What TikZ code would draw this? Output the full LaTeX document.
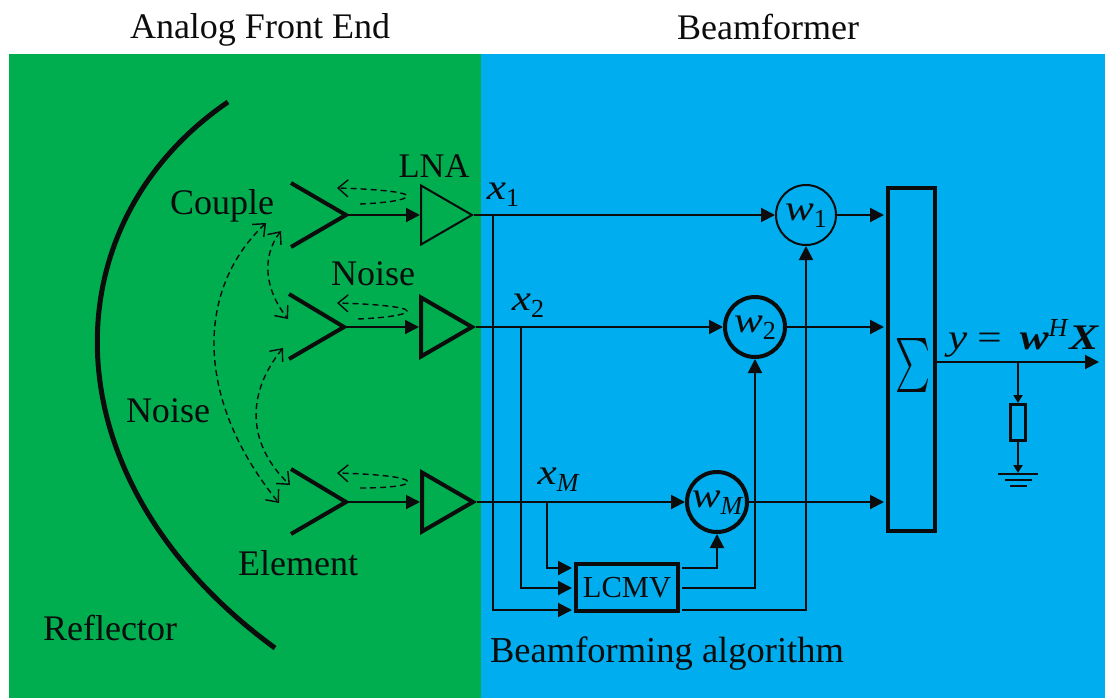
\documentclass[tikz,border=0pt]{standalone}
\usepackage{fontspec}
\setmainfont{Liberation Serif}
\usetikzlibrary{arrows.meta,shapes.geometric}
\definecolor{fegreen}{HTML}{00AD4F}
\definecolor{bfblue}{HTML}{00ADEF}
\definecolor{ink}{HTML}{0C0C0C}
\newcommand{\wdr}[1]{\scalebox{1.2}[1]{#1}}
\tikzset{
  x=1pt,y=-1pt,
  lbl/.style={inner sep=0pt,text=ink,font=\fontsize{36}{40}\selectfont},
  mth/.style={inner sep=0pt,text=ink,font=\fontsize{36}{38}\selectfont\itshape},
  wire/.style={draw=ink,line width=2pt},
  flow/.style={wire,-{Triangle[length=14pt,width=14pt]}},
  smallflow/.style={wire,-{Triangle[length=8pt,width=9pt]}},
  horn/.style={draw=ink,line width=4pt},
  loopline/.style={draw=ink,line width=1.4pt,dash pattern=on 6pt off 4pt,-{Straight Barb[length=10pt,width=17pt,line width=1.4pt]}},
  twoway/.style={draw=ink,line width=1.4pt,dash pattern=on 6pt off 4pt,{Straight Barb[length=10pt,width=17pt,line width=1.4pt]}-{Straight Barb[length=10pt,width=17pt,line width=1.4pt]}},
  lna/.style={draw=ink,shape=isosceles triangle,isosceles triangle apex angle=59,minimum width=59pt,minimum height=51pt,inner sep=0pt,anchor=lower side,fill=fegreen,isosceles triangle stretches},
  wcirc/.style={draw=ink,circle,minimum size=#1,inner sep=0pt},
  blockbox/.style={draw=ink,line width=4pt,inner sep=0pt},
}
\begin{document}
\begin{tikzpicture}
\useasboundingbox (0,0) rectangle (1105,698);
\fill[fegreen] (9,54) rectangle (481,698);
\fill[bfblue] (481,54) rectangle (1105,698);

\node[lbl] (title1) at (260,30) {Analog Front End};
\node[lbl] (title2) at (768,27) {Beamformer};
\node[lbl] (couple) at (222,206) {Couple};
\node[lbl] (noise1) at (373,274) {Noise};
\node[lbl] (noise2) at (168,411) {Noise};
\node[lbl] (element) at (298,563) {Element};
\node[lbl] (reflector) at (110,628) {Reflector};
\node[lbl,font=\fontsize{34.5}{38}\selectfont] (lnalabel) at (434,166) {LNA};
\node[lbl,font=\fontsize{36.5}{40}\selectfont] (algo) at (667,654) {Beamforming algorithm};

% reflector
\draw[ink,line width=5pt] (228,102) .. controls (48,225) and (45,480) .. (275,648);

% antennas
\coordinate (a1) at (346,215);
\coordinate (a2) at (344,327);
\coordinate (a3) at (346,502);
\coordinate (a1t) at (291,183); \coordinate (a1b) at (291,247);
\coordinate (a2t) at (289,294); \coordinate (a2b) at (289,359);
\coordinate (a3t) at (291,469); \coordinate (a3b) at (291,534);
\draw[horn] (a1t) -- (a1) -- (a1b);
\draw[horn] (a2t) -- (a2) -- (a2b);
\draw[horn] (a3t) -- (a3) -- (a3b);

% LNAs
\node[lna,line width=2pt] (t1) at (420,215) {};
\node[lna,line width=4pt] (t2) at (419,327) {};
\node[lna,line width=4pt] (t3) at (420,502) {};
\draw[flow] (a1) -- (t1.lower side);
\draw[flow] (a2) -- (t2.lower side);
\draw[flow] (a3) -- (t3.lower side);

% dashed loops
\coordinate (l1s) at (360,204); \coordinate (l1r) at (407,196); \coordinate (l1e) at (337,188);
\coordinate (l2s) at (358,319); \coordinate (l2r) at (407,311); \coordinate (l2e) at (337,303);
\coordinate (l3s) at (360,488); \coordinate (l3r) at (408,482); \coordinate (l3e) at (337,473);
\draw[loopline] (l1s) .. controls (385,203) and (407,200) .. (l1r) .. controls (407,192) and (375,189) .. (l1e);
\draw[loopline] (l2s) .. controls (383,318) and (407,315) .. (l2r) .. controls (407,307) and (375,304) .. (l2e);
\draw[loopline] (l3s) .. controls (385,488) and (408,486) .. (l3r) .. controls (408,477) and (375,474) .. (l3e);

% coupling arcs
\coordinate (c1a) at (266,223); \coordinate (c1b) at (279,503);
\coordinate (c2a) at (281,231); \coordinate (c2b) at (288,319);
\coordinate (c3a) at (283,348); \coordinate (c3b) at (290,485);
\draw[twoway] (c1a) .. controls (195,290) and (195,400) .. (c1b);
\draw[twoway] (c2a) .. controls (261,257) and (265,290) .. (c2b);
\draw[twoway] (c3a) .. controls (245,395) and (248,445) .. (c3b);

% beamformer nodes
\node[wcirc=60pt,line width=2pt] (w1) at (806,215) {};
\node[wcirc=60pt,line width=4pt] (w2) at (755,327) {};
\node[wcirc=60pt,line width=4pt] (wM) at (717,502) {};
\node[mth] at (806,216) {\wdr{w}\raisebox{-7pt}{\fontsize{26}{28}\selectfont\upshape 1}};
\node[mth] at (755,328) {\wdr{w}\raisebox{-7pt}{\fontsize{26}{28}\selectfont\upshape 2}};
\node[mth] at (717,503) {\wdr{w}\raisebox{-7pt}{\fontsize{26}{28}\selectfont M}};

\node[blockbox,minimum width=102pt,minimum height=47pt,font=\fontsize{30.5}{34}\selectfont,text=ink] (lcmv) at (627,587.5) {LCMV};
\node[blockbox,minimum width=47pt,minimum height=343pt] (sum) at (911.5,359.5) {};
\node[inner sep=0pt,text=ink] (sigma) at (913,365) {\resizebox*{35pt}{54pt}{$\sum$}};

\node[mth] (x1) at (503,195) {\wdr{x}\raisebox{-7pt}{\fontsize{26}{28}\selectfont\upshape 1}};
\node[mth] (x2) at (528,306) {\wdr{x}\raisebox{-7pt}{\fontsize{26}{28}\selectfont\upshape 2}};
\node[mth] (xM) at (558,480) {\wdr{x}\raisebox{-7pt}{\fontsize{26}{28}\selectfont M}};

% signal wires
\draw[flow] (t1.apex) -- (w1.west);
\draw[flow] (t2.apex) -- (w2.west);
\draw[flow] (t3.apex) -- (wM.west);
\coordinate (j1) at (493,215); \coordinate (j1b) at (493,610);
\coordinate (j2) at (521,327); \coordinate (j2b) at (521,588);
\coordinate (j3) at (547,502); \coordinate (j3b) at (547,568);
\coordinate (in1) at (572,610); \coordinate (in2) at (572,588); \coordinate (in3) at (572,568);
\draw[flow] (j1) -- (j1b) -- (in1);
\draw[flow] (j2) -- (j2b) -- (in2);
\draw[flow] (j3) -- (j3b) -- (in3);

\coordinate (o1) at (682,568); \coordinate (o2) at (682,588); \coordinate (o3) at (682,610);
\draw[flow] (o1) -| (wM.south);
\draw[flow] (o2) -| (w2.south);
\draw[flow] (o3) -| (w1.south);

\coordinate (s1) at (884,215); \coordinate (s2) at (884,327); \coordinate (s3) at (884,502);
\draw[flow] (w1.east) -- (s1);
\draw[flow] (w2.east) -- (s2);
\draw[flow] (wM.east) -- (s3);

% output
\coordinate (out0) at (937,362); \coordinate (out) at (1099,362); \coordinate (tap) at (1018,362);
\draw[flow] (out0) -- (out);
\node[draw=ink,line width=3pt,minimum width=15pt,minimum height=36pt,inner sep=0pt] (res) at (1018,422.5) {};
\coordinate (gnd) at (1018,473);
\draw[smallflow] (tap) -- (res.north);
\draw[smallflow] (res.south) -- (gnd);
\coordinate (g1l) at (998,473.5); \coordinate (g1r) at (1038,473.5);
\coordinate (g2l) at (1005,479.5); \coordinate (g2r) at (1032,479.5);
\coordinate (g3l) at (1010,485.5); \coordinate (g3r) at (1027,485.5);
\draw[wire] (g1l) -- (g1r);
\draw[wire] (g2l) -- (g2r);
\draw[wire] (g3l) -- (g3r);

\node[mth,anchor=base west] (yeq) at (948,349) {\wdr{y}\hspace{10pt}\upshape\wdr{=}\hspace{18pt}\bfseries\itshape\wdr{w}\raisebox{13pt}{\fontsize{26}{28}\mdseries\itshape\selectfont H}\hspace{2pt}\wdr{X}};
\end{tikzpicture}
\end{document}
